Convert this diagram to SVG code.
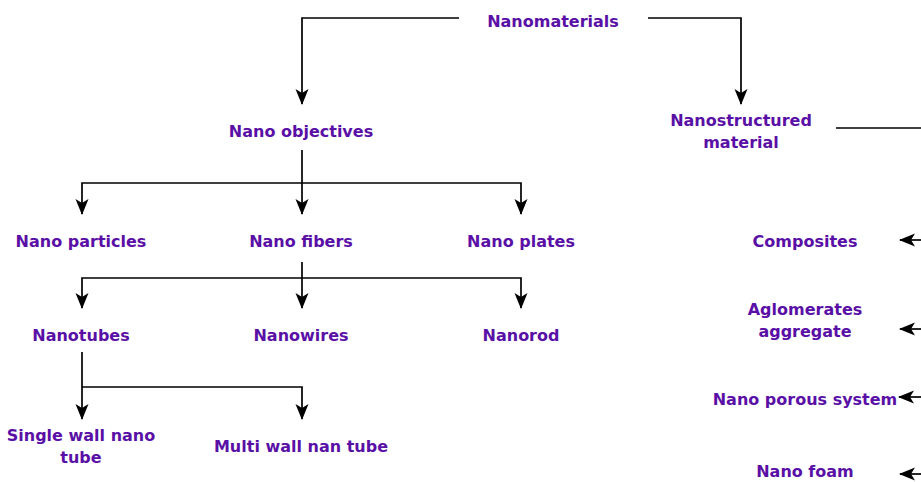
<svg xmlns="http://www.w3.org/2000/svg" width="921" height="482" viewBox="0 0 921 482">
<defs>
<marker id="ah" viewBox="0 0 16 14" refX="15" refY="7" markerWidth="16" markerHeight="14" markerUnits="userSpaceOnUse" orient="auto">
<path d="M0,0.5 L16,7 L0,13.5 L4,7 Z" fill="#000"/>
</marker>
<style>
text{font-family:"Comic Sans MS","DejaVu Sans",sans-serif;font-weight:bold;font-size:16px;fill:#5a10a6;text-anchor:middle}
.c{fill:none;stroke:#000;stroke-width:1.7}
</style>
</defs>
<rect width="921" height="482" fill="#fff"/>
<g id="connectors">
<path class="c" d="M459,18 H302 V104" marker-end="url(#ah)"/>
<path class="c" d="M648,18 H741 V104" marker-end="url(#ah)"/>
<path class="c" d="M836,128 H921"/>
<path class="c" d="M302,150 V214" marker-end="url(#ah)"/>
<path class="c" d="M302,183 H82 V214" marker-end="url(#ah)"/>
<path class="c" d="M302,183 H521 V214" marker-end="url(#ah)"/>
<path class="c" d="M302,262 V308" marker-end="url(#ah)"/>
<path class="c" d="M302,278 H82 V308" marker-end="url(#ah)"/>
<path class="c" d="M302,278 H521 V308" marker-end="url(#ah)"/>
<path class="c" d="M82,352 V419" marker-end="url(#ah)"/>
<path class="c" d="M82,387 H302 V419" marker-end="url(#ah)"/>
<path class="c" d="M921,240 H900" marker-end="url(#ah)"/>
<path class="c" d="M921,329 H900" marker-end="url(#ah)"/>
<path class="c" d="M921,397 H899" marker-end="url(#ah)"/>
<path class="c" d="M921,474 H900" marker-end="url(#ah)"/>
</g>
<g id="nanomaterials"><text x="553" y="27">Nanomaterials</text></g>
<g id="nano-objectives"><text x="301" y="137">Nano objectives</text></g>
<g id="nanostructured"><text x="741" y="126">Nanostructured</text><text x="741" y="148">material</text></g>
<g id="nano-particles"><text x="81" y="247">Nano particles</text></g>
<g id="nano-fibers"><text x="301" y="247">Nano fibers</text></g>
<g id="nano-plates"><text x="521" y="247">Nano plates</text></g>
<g id="composites"><text x="805" y="247">Composites</text></g>
<g id="nanotubes"><text x="81" y="341">Nanotubes</text></g>
<g id="nanowires"><text x="301" y="341">Nanowires</text></g>
<g id="nanorod"><text x="521" y="341">Nanorod</text></g>
<g id="aglomerates"><text x="805" y="315">Aglomerates</text><text x="805" y="337">aggregate</text></g>
<g id="single-wall"><text x="81" y="441">Single wall nano</text><text x="81" y="463">tube</text></g>
<g id="multi-wall"><text x="301" y="452">Multi wall nan tube</text></g>
<g id="nano-porous"><text x="805" y="405">Nano porous system</text></g>
<g id="nano-foam"><text x="805" y="477">Nano foam</text></g>
</svg>
